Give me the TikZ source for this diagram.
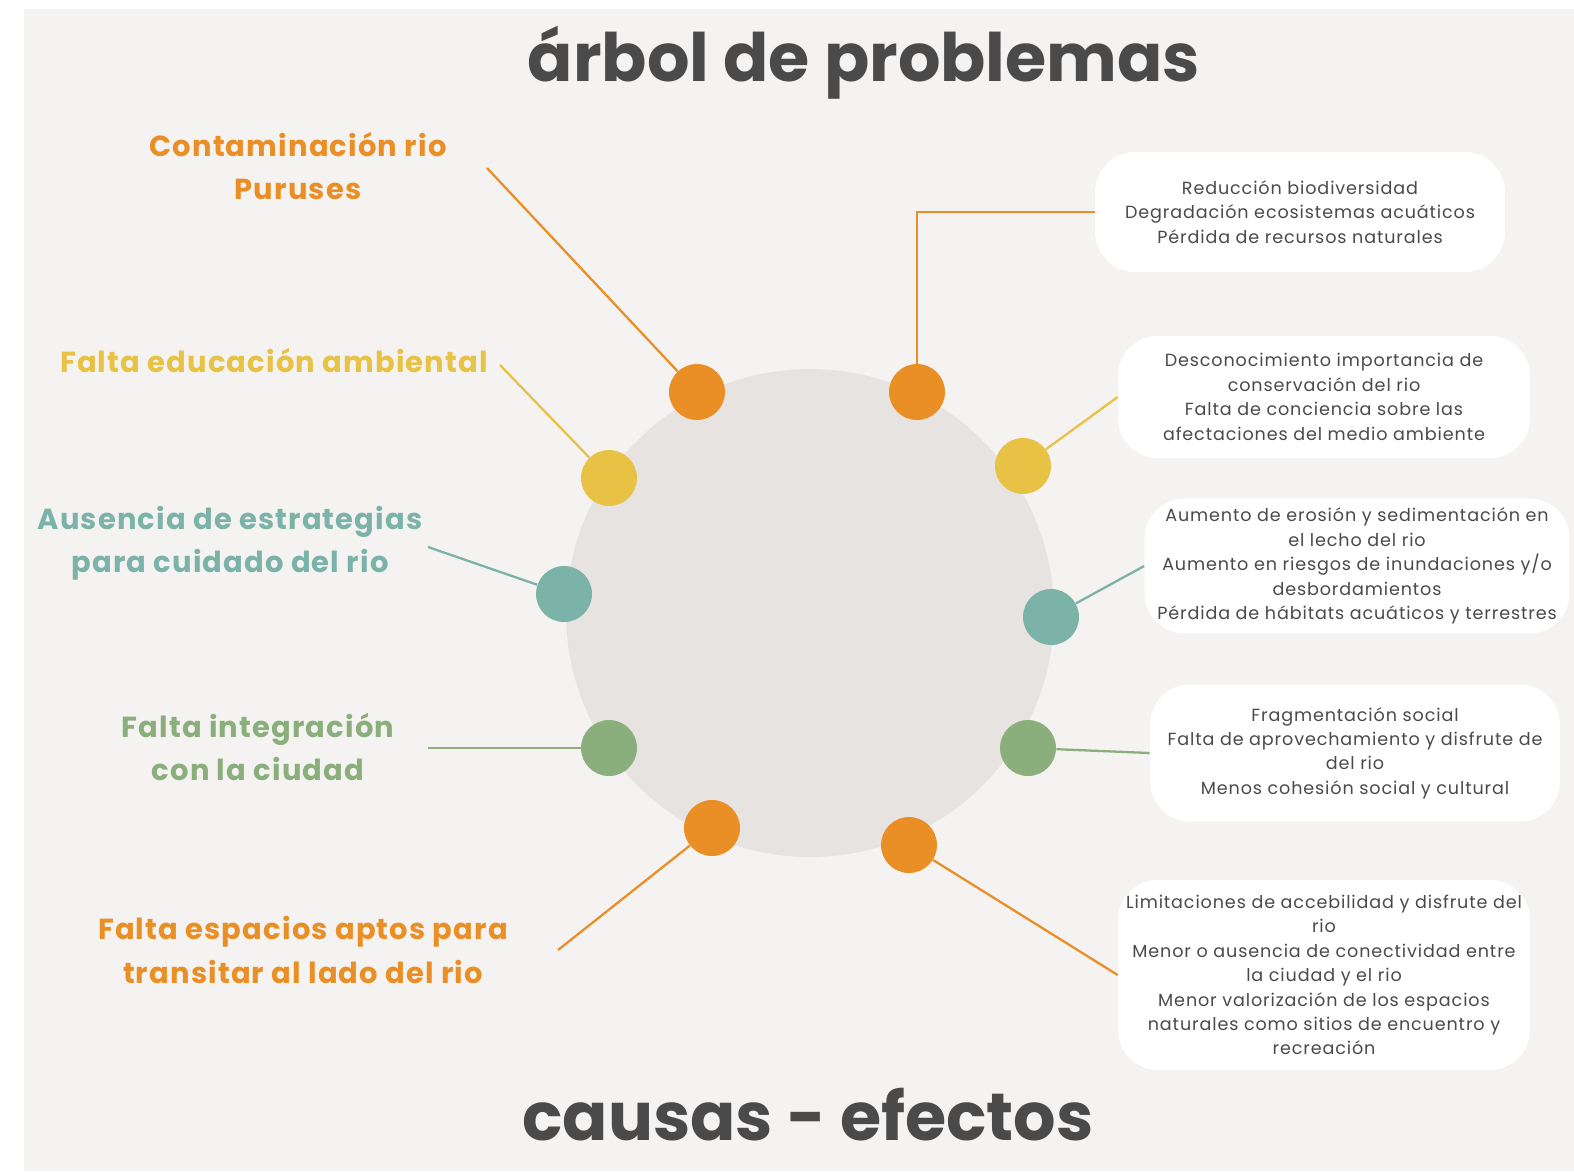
\documentclass[tikz,border=0pt]{standalone}
\usepackage{fontspec}
\setmainfont{Poppins}

\definecolor{bgpink}{HTML}{F5F2F2}
\definecolor{coregray}{HTML}{E6E3E0}
\definecolor{orng}{HTML}{E98F26}
\definecolor{yllw}{HTML}{E8C244}
\definecolor{teal}{HTML}{7BB3A8}
\definecolor{grn}{HTML}{8BAF7C}
\definecolor{ink}{HTML}{4A4A4A}

\newcommand\causa[4]{\node[cause, text=#2] (#1) at (#3) {#4};}

\begin{document}
\begin{tikzpicture}[x=0.02cm, y=-0.02cm,
    dot/.style={circle, minimum size=1.12cm, inner sep=0pt},
    link/.style={line width=1.3pt},
    cause/.style={align=center,
        font=\fontsize{16.5}{24.5}\selectfont\bfseries\addfontfeature{LetterSpace=4}},
    effect/.style={fill=white, rounded corners=0.8cm, align=center, text=ink,
        font=\fontsize{10}{13.9}\selectfont\addfontfeature{LetterSpace=5}},
    heading/.style={text=ink, font=\fontsize{38}{42}\selectfont\bfseries}]

    \useasboundingbox (0,0) rectangle (1574,1171);
    \fill[bgpink] (24,9) rectangle (1574,1171);

    % titles
    \node[heading] (title) at (864,63) {árbol de problemas};
    \node[heading] (foot) at (808,1115) {causas - efectos};

    % core
    \node[circle, fill=coregray, minimum size=9.76cm] (core) at (810,613) {};

    % dots, causes
    \node[dot, fill=orng] (dC1) at (697,392) {};
    \node[dot, fill=yllw] (dC2) at (609,478) {};
    \node[dot, fill=teal] (dC3) at (564,594) {};
    \node[dot, fill=grn]  (dC4) at (609,748) {};
    \node[dot, fill=orng] (dC5) at (712,828) {};

    % dots, effects
    \node[dot, fill=orng] (dE1) at (917,392) {};
    \node[dot, fill=yllw] (dE2) at (1023,466) {};
    \node[dot, fill=teal] (dE3) at (1051,617) {};
    \node[dot, fill=grn]  (dE4) at (1028,748) {};
    \node[dot, fill=orng] (dE5) at (909,845) {};

    % cause labels
    \causa{lC1}{orng}{298,166}{Contaminación rio\\Puruses}
    \causa{lC2}{yllw}{274,361}{Falta educación ambiental}
    \causa{lC3}{teal}{230,543}{Ausencia de estrategias\\para cuidado del rio}
    \causa{lC4}{grn}{258,747}{Falta integración\\con la ciudad}
    \causa{lC5}{orng}{303,950}{Falta espacios aptos para\\transitar al lado del rio}

    % effect boxes
    \node[effect, minimum width=8.2cm, minimum height=2.4cm] (eB1) at (1300,212)
        {Reducción biodiversidad\\Degradación ecosistemas acuáticos\\Pérdida de recursos naturales};
    \node[effect, minimum width=8.24cm, minimum height=2.44cm] (eB2) at (1324,397)
        {Desconocimiento importancia de\\conservación del rio\\Falta de conciencia sobre las\\afectaciones del medio ambiente};
    \node[effect, minimum width=8.5cm, minimum height=2.7cm] (eB3) at (1357,566)
        {Aumento de erosión y sedimentación en\\el lecho del rio\\Aumento en riesgos de inundaciones y/o\\desbordamientos\\Pérdida de hábitats acuáticos y terrestres};
    \node[effect, minimum width=8.2cm, minimum height=2.74cm] (eB4) at (1355,753)
        {Fragmentación social\\Falta de aprovechamiento y disfrute de\\del rio\\Menos cohesión social y cultural};
    \node[effect, minimum width=8.24cm, minimum height=3.8cm] (eB5) at (1324,975)
        {Limitaciones de accebilidad y disfrute del\\rio\\Menor o ausencia de conectividad entre\\la ciudad y el rio\\Menor valorización de los espacios\\naturales como sitios de encuentro y\\recreación};

    % free ends of the cause lines
    \coordinate (cC1) at (487,168);
    \coordinate (cC2) at (500,365);
    \coordinate (cC3) at (428,547);
    \coordinate (cC4) at (428,748);
    \coordinate (cC5) at (558,950);

    % causes to dots
    \draw[link, orng] (cC1) -- (dC1);
    \draw[link, yllw] (cC2) -- (dC2);
    \draw[link, teal] (cC3) -- (dC3);
    \draw[link, grn]  (cC4) -- (dC4);
    \draw[link, orng] (cC5) -- (dC5);

    % dots to effects
    \draw[link, orng] (dE1) |- (eB1.west);
    \draw[link, yllw] (dE2) -- (eB2.west);
    \draw[link, teal] (dE3) -- (eB3.west);
    \draw[link, grn]  (dE4) -- (eB4.west);
    \draw[link, orng] (dE5) -- (eB5.west);

\end{tikzpicture}
\end{document}
